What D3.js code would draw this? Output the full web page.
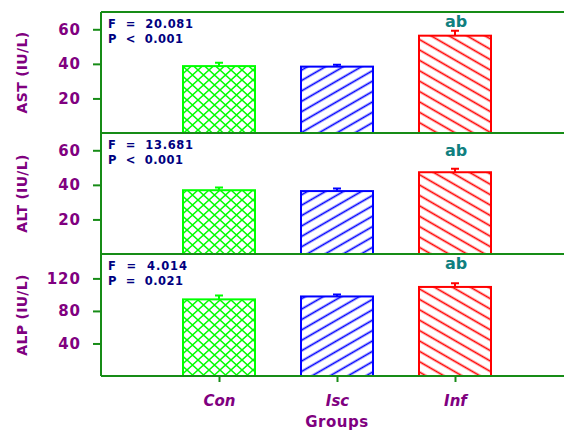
<!DOCTYPE html>
<html lang="en">
<head>
  <meta charset="UTF-8">
  <title>AST ALT ALP</title>
  <style>
    body { margin: 0; background: #fff; }
    text { font-family: "DejaVu Sans", sans-serif; font-weight: bold; }
  </style>
</head>
<body>
  <script src="https://cdn.jsdelivr.net/npm/d3@7/dist/d3.min.js"></script>
  <script>
    // data
    let groups = ["Con", "Isc", "Inf"];
    let astMean = [38.7, 38.4, 56.3], astErr = [2.0, 1.1, 2.8];
    let altMean = [36.9, 36.4, 47.3], altErr = [1.6, 1.5, 2.0];
    let alpMean = [94.2, 97.8, 109.5], alpErr = [4.8, 2.4, 4.5];
    let astTicks = [20, 40, 60], altTicks = [20, 40, 60], alpTicks = [40, 80, 120];
    let fText = ["F = 20.081", "F = 13.681", "F = 4.014"];
    let pText = ["P < 0.001", "P < 0.001", "P = 0.021"];
    let letters = [["", "", "ab"], ["", "", "ab"], ["", "", "ab"]];

    let width = 564, height = 432;
    let left = 101, right = 573;
    let colors = ["#00ff00", "#0000ff", "#ff0000"];
    let frame = "#168c16", purple = "#800080";

    let panels = [
      { label: "AST (IU/L)", mean: astMean, err: astErr, ticks: astTicks, max: 70, top: 12, bottom: 133, abGap: 4 },
      { label: "ALT (IU/L)", mean: altMean, err: altErr, ticks: altTicks, max: 70, top: 133, bottom: 254, abGap: 13 },
      { label: "ALP (IU/L)", mean: alpMean, err: alpErr, ticks: alpTicks, max: 150, top: 254, bottom: 376, abGap: 14 }
    ];

    let svg = d3.select("body").append("svg")
      .attr("width", width).attr("height", height);

    // hatch patterns
    let defs = svg.append("defs");
    defs.append("pattern").attr("id", "p0")
      .attr("patternUnits", "userSpaceOnUse").attr("width", 11).attr("height", 10)
      .append("path").attr("d", "M0,0L11,10M0,10L11,0")
      .attr("stroke", colors[0]).attr("stroke-width", 1.5);
    defs.append("pattern").attr("id", "p1")
      .attr("patternUnits", "userSpaceOnUse").attr("width", 10).attr("height", 9)
      .attr("patternTransform", "rotate(-30)")
      .append("path").attr("d", "M0,4.5H10")
      .attr("stroke", colors[1]).attr("stroke-width", 1.7);
    defs.append("pattern").attr("id", "p2")
      .attr("patternUnits", "userSpaceOnUse").attr("width", 10).attr("height", 9)
      .attr("patternTransform", "rotate(30)")
      .append("path").attr("d", "M0,4.5H10")
      .attr("stroke", colors[2]).attr("stroke-width", 1.7);

    let x = d3.scaleLinear().domain([0, 4]).range([left, right]);
    let bw = 72;

    panels.forEach((p, k) => {
      let y = d3.scaleLinear().domain([0, p.max]).range([p.bottom, p.top]);
      let g = svg.append("g");
      let rows = groups.map((name, i) => ({ name: name, i: i, m: p.mean[i], e: p.err[i], lt: letters[k][i] }));

      // bars
      g.selectAll("rect.bar").data(rows).enter().append("rect")
        .attr("x", d => x(d.i + 1) - bw / 2)
        .attr("y", d => y(d.m))
        .attr("width", bw)
        .attr("height", d => y(0) - y(d.m))
        .attr("fill", d => "url(#p" + d.i + ")")
        .attr("stroke", d => colors[d.i])
        .attr("stroke-width", 2);

      // error bars
      g.selectAll("path.err").data(rows).enter().append("path")
        .attr("d", d => "M" + x(d.i + 1) + "," + y(d.m) + "V" + y(d.m + d.e) +
          "M" + (x(d.i + 1) - 4) + "," + y(d.m + d.e) + "H" + (x(d.i + 1) + 4))
        .attr("stroke", d => colors[d.i]).attr("stroke-width", 2).attr("fill", "none");

      // significance letters
      g.selectAll("text.lt").data(rows).enter().append("text")
        .attr("x", d => x(d.i + 1) + 1)
        .attr("y", d => y(d.m + d.e) - p.abGap)
        .attr("text-anchor", "middle")
        .attr("font-size", 16).attr("fill", "#108080")
        .text(d => d.lt);

      // y axis
      let ax = g.append("g").attr("transform", "translate(" + left + ",0)")
        .call(d3.axisLeft(y).tickValues(p.ticks).tickSize(8).tickPadding(12));
      ax.select(".domain").remove();
      ax.selectAll("line").attr("stroke", frame).attr("stroke-width", 2);
      ax.selectAll("text").attr("fill", purple).attr("font-size", 15)
        .attr("font-family", "DejaVu Sans").attr("font-weight", "bold")
        .attr("letter-spacing", 1);

      // frame lines
      g.append("line").attr("x1", left).attr("x2", right).attr("y1", p.top).attr("y2", p.top)
        .attr("stroke", frame).attr("stroke-width", 2);
      g.append("line").attr("x1", left).attr("x2", left).attr("y1", p.top).attr("y2", p.bottom)
        .attr("stroke", frame).attr("stroke-width", 2);

      // stats
      g.append("text").attr("x", 108).attr("y", p.top + 16)
        .attr("font-size", 11.5).attr("fill", "#000080").style("white-space", "pre")
        .attr("textLength", k === 2 ? 79 : 85).attr("lengthAdjust", "spacing")
        .text(fText[k].replace(" = ", "  =  "));
      g.append("text").attr("x", 108).attr("y", p.top + 31)
        .attr("font-size", 11.5).attr("fill", "#000080").style("white-space", "pre")
        .attr("textLength", 75).attr("lengthAdjust", "spacing")
        .text(pText[k].replace(" < ", "  <  ").replace(" = ", "  =  "));

      // y label
      g.append("text")
        .attr("transform", "translate(27," + ((p.top + p.bottom) / 2) + ") rotate(-90)")
        .attr("text-anchor", "middle").attr("font-size", 14).attr("fill", purple)
        .attr("letter-spacing", 0.3)
        .text(p.label);
    });

    // x axis
    let last = panels[2];
    let xa = svg.append("g").attr("transform", "translate(0," + last.bottom + ")")
      .call(d3.axisBottom(x).tickValues([1, 2, 3]).tickSize(6).tickPadding(13)
        .tickFormat(d => groups[d - 1]));
    xa.select(".domain").remove();
    xa.selectAll("line").attr("stroke", frame).attr("stroke-width", 2);
    xa.selectAll("text").attr("fill", purple).attr("font-size", 15)
      .attr("font-family", "DejaVu Sans").attr("font-weight", "bold").attr("font-style", "italic");
    svg.append("line").attr("x1", left).attr("x2", right).attr("y1", last.bottom).attr("y2", last.bottom)
      .attr("stroke", frame).attr("stroke-width", 2);

    svg.append("text").attr("x", x(2)).attr("y", 427)
      .attr("text-anchor", "middle").attr("font-size", 15).attr("fill", purple)
      .attr("letter-spacing", 0.5)
      .text("Groups");
  </script>
</body>
</html>
